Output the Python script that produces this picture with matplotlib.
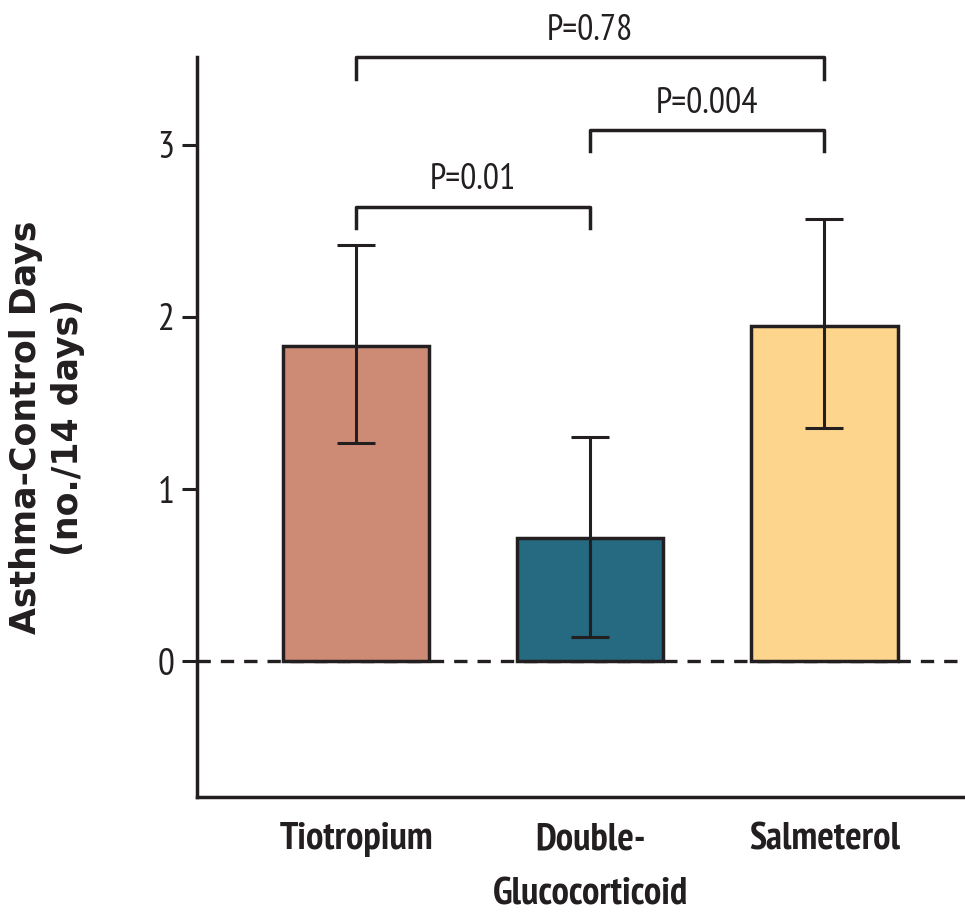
import matplotlib
matplotlib.use("Agg")
import matplotlib.pyplot as plt

narrow = ["PT Sans Narrow", "DejaVu Sans"]

categories = ["Tiotropium", "Double-\nGlucocorticoid", "Salmeterol"]
means = [1.83, 0.715, 1.95]
lower = [1.27, 0.14, 1.355]
upper = [2.42, 1.30, 2.57]
colors = ["#CD8B76", "#256A80", "#FDD58C"]
yticks = [0, 1, 2, 3]
comparisons = [(0, 1, 2.64, "P=0.01"), (1, 2, 3.087, "P=0.004"), (0, 2, 3.51, "P=0.78")]

ink = "#231F20"
fig = plt.figure(figsize=(9.65, 9.14), dpi=100)
ax = fig.add_axes([0.204, 0.128, 0.796, 0.8095])
x = list(range(len(categories)))
ax.bar(x, means, width=0.625, color=colors, edgecolor=ink, linewidth=2.5, zorder=2)
yerr = [[m - l for m, l in zip(means, lower)], [u - m for m, u in zip(means, upper)]]
ax.errorbar(x, means, yerr=yerr, fmt="none", ecolor=ink, elinewidth=2.2,
            capsize=14, capthick=2.2, zorder=3)
ax.axhline(0, color=ink, linestyle=(0, (4, 3)), linewidth=2.4, zorder=1)
ax.set_xlim(-0.68, 2.60)
ax.set_ylim(-0.79, 3.51)
ax.set_yticks(yticks)
ax.set_yticklabels([str(t) for t in yticks], fontsize=27, family=narrow, color=ink)
ax.set_xticks(x)
ax.set_xticklabels(categories, fontsize=28, family=narrow, fontweight="bold", color=ink,
                   linespacing=1.75)
ax.tick_params(axis="x", length=0, pad=18)
ax.tick_params(axis="y", length=11, width=2.2, pad=5, color=ink)
for s in ["top", "right"]:
    ax.spines[s].set_visible(False)
for s in ["left", "bottom"]:
    ax.spines[s].set_linewidth(2.5)
    ax.spines[s].set_color(ink)
ax.set_ylabel("Asthma-Control Days\n(no./14 days)", fontsize=25, fontweight="bold",
              color=ink, labelpad=52, linespacing=1.3)

drop = 0.125
for i, j, h, txt in comparisons:
    ax.plot([i, i, j, j], [h - drop, h, h, h - drop], color=ink, linewidth=2.5,
            clip_on=False, zorder=4)
    ax.text((i + j) / 2, h + 0.06, txt, ha="center", va="bottom", fontsize=26,
            family=narrow, color=ink)

fig.savefig("out.png", dpi=100)
